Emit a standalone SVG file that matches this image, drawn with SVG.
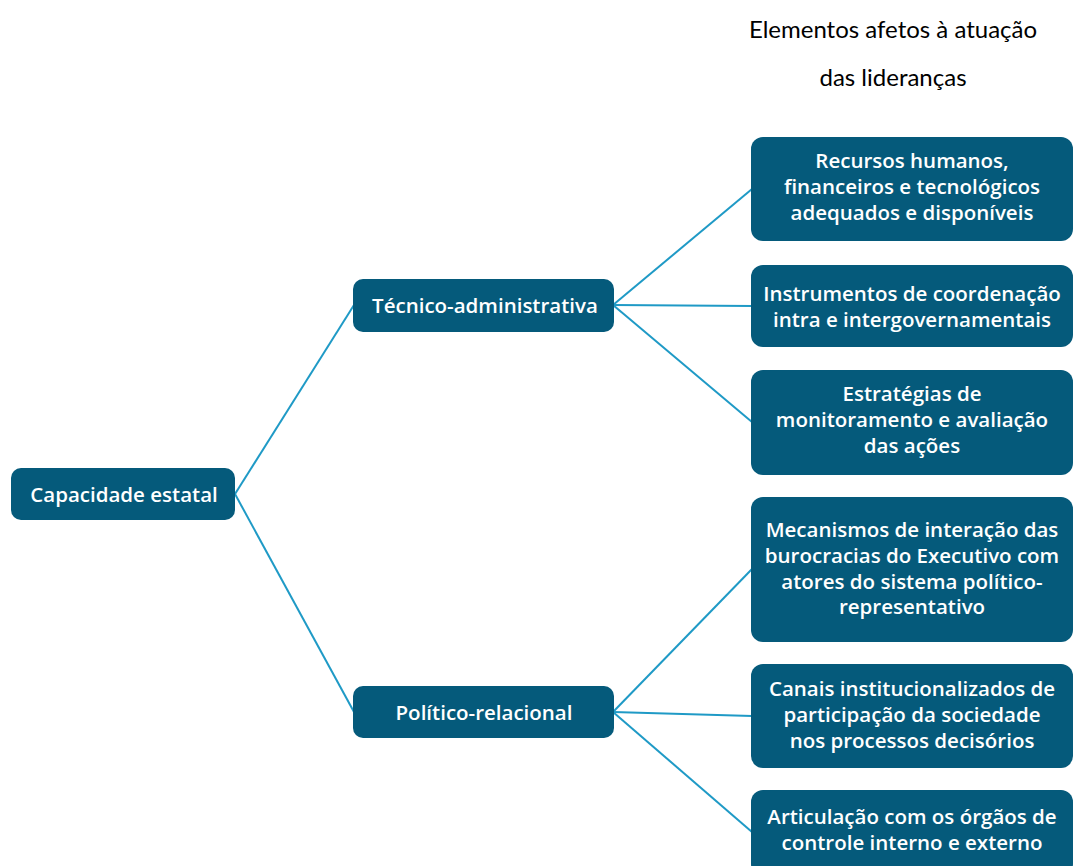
<svg xmlns="http://www.w3.org/2000/svg" width="1074" height="866" viewBox="0 0 1074 866">
<style>
.box{fill:#055a7b;}
.t{font-family:"Open Sans","Noto Sans",sans-serif;font-weight:600;font-size:20.5px;fill:#ffffff;text-anchor:middle;}
.h{font-family:Lato,"Open Sans",sans-serif;font-size:24px;fill:#000000;text-anchor:middle;}
.c{stroke:#1f9ac6;stroke-width:2;fill:none;}
</style>
<rect width="1074" height="866" fill="#ffffff"/>
<g id="title">
<text class="h" x="893" y="38">Elementos afetos à atuação</text>
<text class="h" x="893" y="86">das lideranças</text>
</g>
<g id="connectors">
<line class="c" x1="235" y1="494" x2="354" y2="305"/>
<line class="c" x1="235" y1="494" x2="354" y2="712"/>
<line class="c" x1="613" y1="305" x2="752" y2="189"/>
<line class="c" x1="613" y1="305" x2="752" y2="306"/>
<line class="c" x1="613" y1="305" x2="752" y2="422"/>
<line class="c" x1="613" y1="712" x2="752" y2="569"/>
<line class="c" x1="613" y1="712" x2="752" y2="716"/>
<line class="c" x1="613" y1="712" x2="752" y2="832"/>
</g>
<g id="capacidade">
<rect class="box" x="11" y="468" width="224" height="52" rx="10"/>
<text class="t" x="124" y="502">Capacidade estatal</text>
</g>
<g id="tecnico">
<rect class="box" x="353" y="279" width="261" height="53" rx="10"/>
<text class="t" x="485" y="313">Técnico-administrativa</text>
</g>
<g id="politico">
<rect class="box" x="353" y="686" width="261" height="52" rx="10"/>
<text class="t" x="484" y="720">Político-relacional</text>
</g>
<g id="recursos">
<rect class="box" x="751" y="137" width="322" height="104" rx="12"/>
<text class="t" x="912" y="168">Recursos humanos,</text>
<text class="t" x="912" y="194">financeiros e tecnológicos</text>
<text class="t" x="912" y="220">adequados e disponíveis</text>
</g>
<g id="instrumentos">
<rect class="box" x="751" y="265" width="322" height="82" rx="12"/>
<text class="t" x="912" y="301">Instrumentos de coordenação</text>
<text class="t" x="912" y="327">intra e intergovernamentais</text>
</g>
<g id="estrategias">
<rect class="box" x="751" y="370" width="322" height="105" rx="12"/>
<text class="t" x="912" y="401">Estratégias de</text>
<text class="t" x="912" y="427">monitoramento e avaliação</text>
<text class="t" x="912" y="453">das ações</text>
</g>
<g id="mecanismos">
<rect class="box" x="751" y="497" width="322" height="145" rx="12"/>
<text class="t" x="912" y="537">Mecanismos de interação das</text>
<text class="t" x="912" y="563">burocracias do Executivo com</text>
<text class="t" x="912" y="589">atores do sistema político-</text>
<text class="t" x="912" y="614">representativo</text>
</g>
<g id="canais">
<rect class="box" x="751" y="664" width="322" height="104" rx="12"/>
<text class="t" x="912" y="696">Canais institucionalizados de</text>
<text class="t" x="912" y="722">participação da sociedade</text>
<text class="t" x="912" y="748">nos processos decisórios</text>
</g>
<g id="articulacao">
<rect class="box" x="751" y="790" width="322" height="86" rx="12"/>
<text class="t" x="912" y="824">Articulação com os órgãos de</text>
<text class="t" x="912" y="850">controle interno e externo</text>
</g>
</svg>
